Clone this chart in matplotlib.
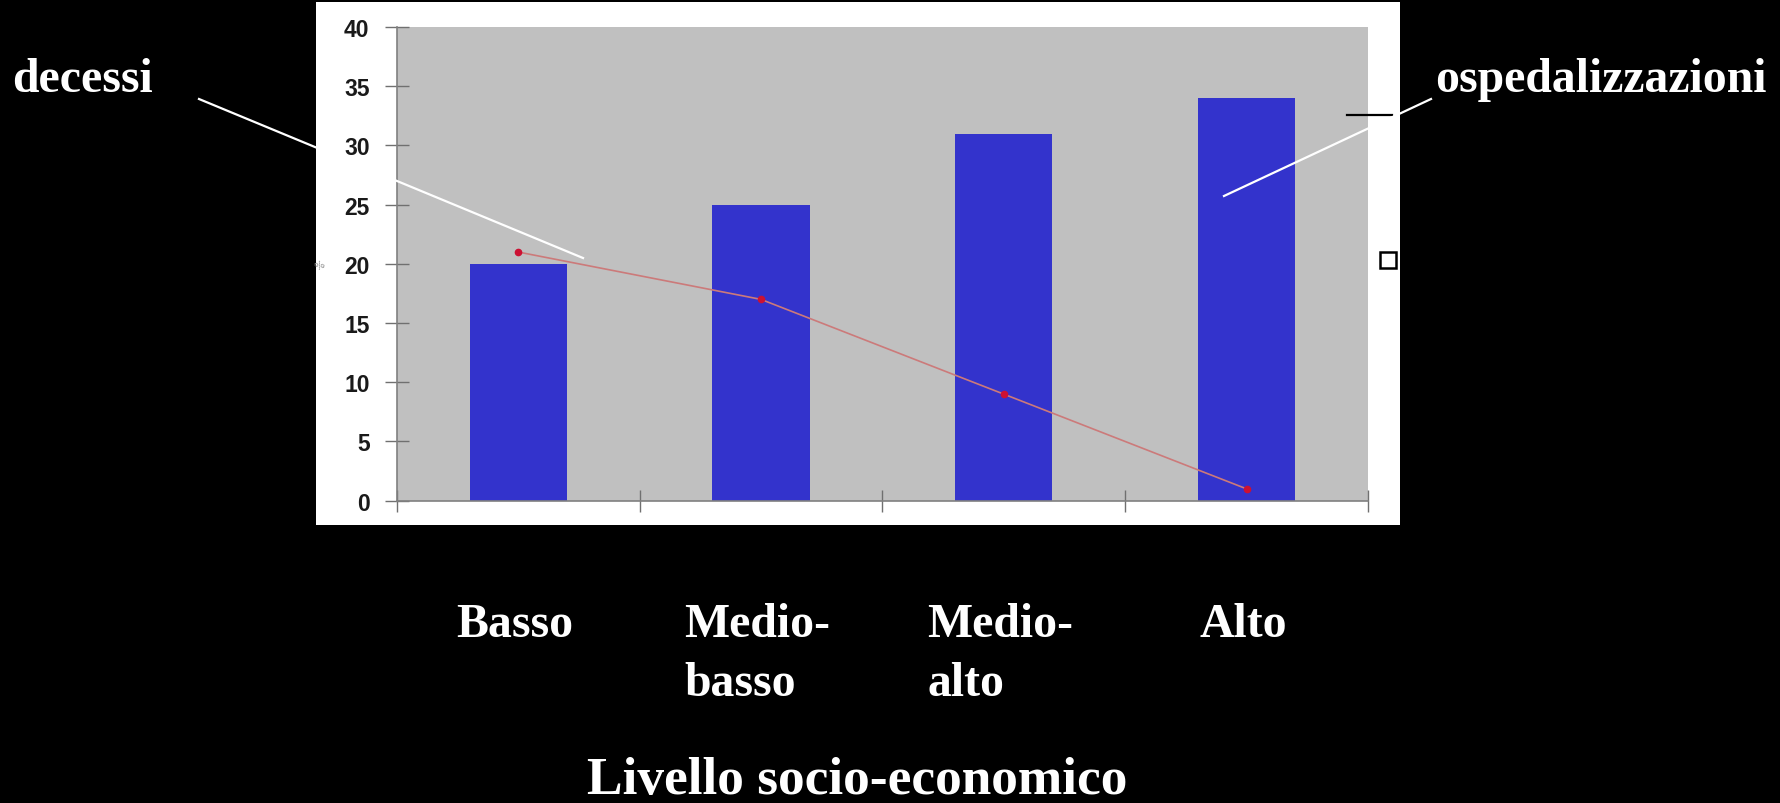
import numpy as np
import matplotlib
matplotlib.use("Agg")
import matplotlib.pyplot as plt
from matplotlib.lines import Line2D
from matplotlib.patches import Rectangle
from matplotlib.transforms import blended_transform_factory

# data
categories = ["Basso", "Medio-\nbasso", "Medio-\nalto", "Alto"]
ospedalizzazioni = [20, 25, 31, 34]
decessi = [21, 17, 9, 1]
yticks = [0, 5, 10, 15, 20, 25, 30, 35, 40]

W, H = 1780, 804
fig = plt.figure(figsize=(W / 100, H / 100), dpi=100)
fig.patch.set_facecolor("black")


def fx(px):
    return px / W


def fy(py):
    return 1 - py / H


# white chart panel (pasted excel chart)
fig.patches.append(Rectangle((fx(316), fy(526)), fx(1400) - fx(316), fy(3) - fy(526),
                             transform=fig.transFigure, facecolor="white", edgecolor="none", zorder=-5))

ax = fig.add_axes([fx(396.7), fy(501.7), fx(1368) - fx(396.7), fy(28) - fy(501.7)])
ax.set_zorder(1)
ax.set_facecolor("#c0c0c0")
x = np.arange(len(categories))
ax.bar(x, ospedalizzazioni, width=0.4, color="#3333cc", zorder=2)
ax.plot(x, decessi, color="#cc7a7a", lw=1.2, zorder=3)
ax.plot(x, decessi, ls="none", marker="o", ms=4.5, color="#cc1133", zorder=4)

ax.set_xlim(-0.5, 3.5)
ax.set_ylim(0, 40)
ax.set_yticks(yticks)
ax.set_yticklabels([str(v) for v in yticks], fontsize=16.5, fontweight="bold",
                   family="Liberation Sans", color="#1a1a1a")
ax.set_xticks([-0.5, 0.5, 1.5, 2.5, 3.5])
ax.set_xticklabels([])
ax.tick_params(axis="y", direction="inout", length=17, width=1, color="#707070", pad=11)
ax.tick_params(axis="x", direction="inout", length=16, width=1, color="#707070")
for s in ["top", "right"]:
    ax.spines[s].set_visible(False)
for s in ["left", "bottom"]:
    ax.spines[s].set_color("#808080")
    ax.spines[s].set_linewidth(1.2)

# category labels below the panel
tr = blended_transform_factory(ax.transData, fig.transFigure)
for xi, lab in zip(x, categories):
    ax.text(xi - 0.015, fy(603), lab, transform=tr, ha="center", va="top", multialignment="left",
            color="white", fontsize=34.4, fontweight="bold", family="Liberation Serif",
            linespacing=1.44, clip_on=False)

fig.text(fx(857), fy(794), "Livello socio-economico", ha="center", va="baseline",
         color="white", fontsize=38.4, fontweight="bold", family="Liberation Serif")

fig.text(fx(12), fy(92), "decessi", ha="left", va="baseline",
         color="white", fontsize=34.4, fontweight="bold", family="Liberation Serif")
fig.text(fx(1435), fy(92), "ospedalizzazioni", ha="left", va="baseline",
         color="white", fontsize=34.4, fontweight="bold", family="Liberation Serif")

# pointer lines
fig.lines.append(Line2D([fx(199), fx(583)], [fy(100), fy(259)], transform=fig.transFigure,
                        color="white", lw=1.6, zorder=10))
fig.lines.append(Line2D([fx(1431), fx(1224)], [fy(100), fy(197)], transform=fig.transFigure,
                        color="white", lw=1.6, zorder=10))

# leftover legend bits
fig.lines.append(Line2D([fx(1347), fx(1392)], [fy(116), fy(116)], transform=fig.transFigure,
                        color="black", lw=1.6, zorder=9))
fig.patches.append(Rectangle((fx(1380), fy(269)), fx(16), 16 / H, transform=fig.transFigure,
                             facecolor="white", edgecolor="black", lw=1.8, zorder=9))
fig.text(fx(320), fy(266), "%", ha="center", va="center", color="#888888", fontsize=7, rotation=30)

fig.savefig("out.png", dpi=100, facecolor="black")
